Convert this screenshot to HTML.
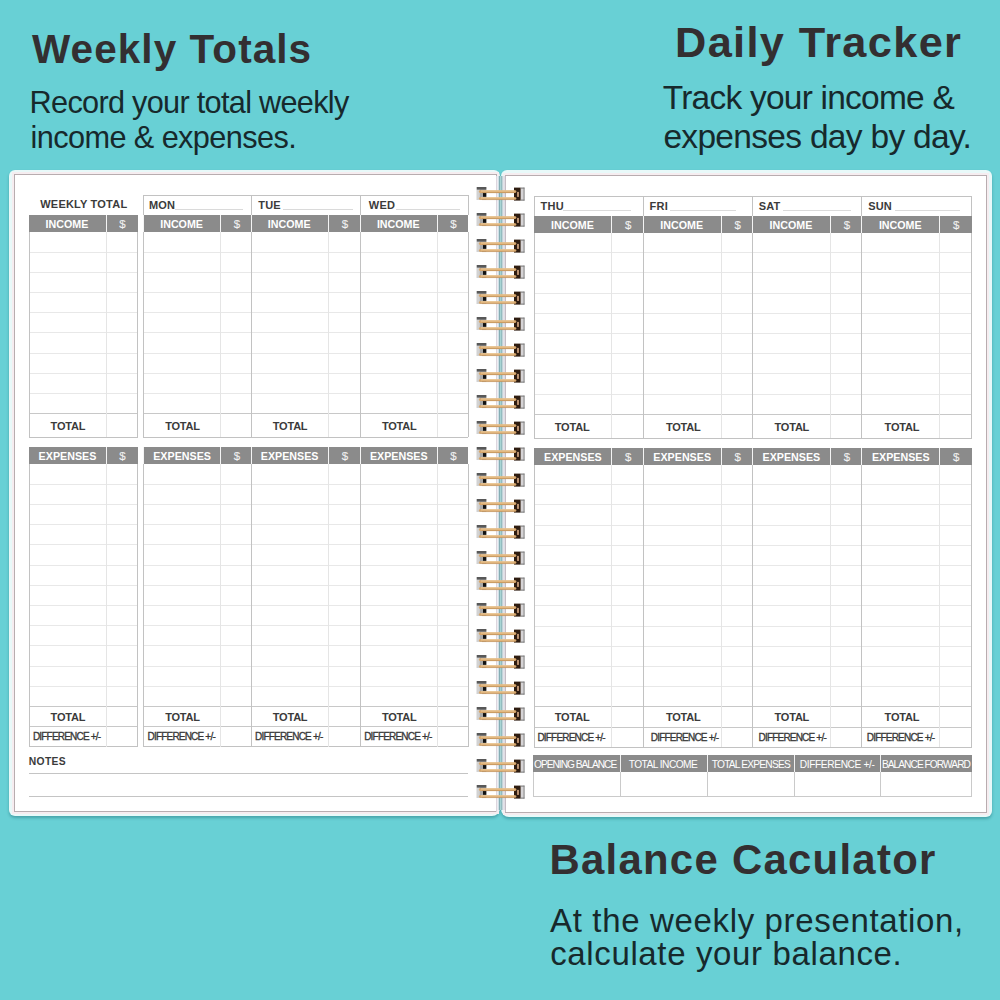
<!DOCTYPE html><html><head><meta charset="utf-8"><style>
*{margin:0;padding:0;box-sizing:border-box}
html,body{width:1000px;height:1000px;overflow:hidden}
body{background:#68d0d5;position:relative;font-family:"Liberation Sans",sans-serif}
.a{position:absolute}
.t{position:absolute;white-space:nowrap;line-height:1}
.big{position:absolute;white-space:nowrap;font-weight:bold;line-height:1;color:#332f31}
.sub{position:absolute;white-space:nowrap;line-height:1;color:#17292c}
.card{position:absolute;background:#e8f9f9;border-radius:6px;box-shadow:0 2px 3px rgba(0,70,80,.32)}
.inner{position:absolute;background:#fff;border:1px solid #b8adb0;box-shadow:0 0 0 2px #f6edf0}

</style></head><body>
<div class="big" style="left:32px;top:29px;font-size:40.5px;letter-spacing:1.066px">Weekly Totals</div>
<div class="sub" style="left:29.6px;top:87.8px;font-size:30.7px;letter-spacing:-0.708px">Record your total weekly</div>
<div class="sub" style="left:30.6px;top:123.4px;font-size:30.7px;letter-spacing:-0.599px">income &amp; expenses.</div>
<div class="big" style="left:675px;top:21px;font-size:43.3px;letter-spacing:1.365px">Daily Tracker</div>
<div class="sub" style="left:662.8px;top:81px;font-size:33.5px;letter-spacing:-0.776px">Track your income &amp;</div>
<div class="sub" style="left:663.4px;top:119.8px;font-size:33.5px;letter-spacing:-0.691px">expenses day by day.</div>
<div class="big" style="left:549.4px;top:839.2px;font-size:41.9px;letter-spacing:1.275px">Balance Caculator</div>
<div class="sub" style="left:550px;top:904.4px;font-size:33px;letter-spacing:0.656px">At the weekly presentation,</div>
<div class="sub" style="left:550.2px;top:937.2px;font-size:33px;letter-spacing:0.636px">calculate your balance.</div>
<div class="card" style="left:9px;top:170px;width:491px;height:646px;border-bottom-right-radius:8px"></div>
<div class="card" style="left:501px;top:170px;width:491px;height:647px;border-bottom-left-radius:8px"></div>
<div class="inner" style="left:14px;top:174px;width:483px;height:638px"></div>
<div class="inner" style="left:505px;top:175px;width:482px;height:638px"></div>
<div class="a" style="left:496px;top:176px;width:1px;height:636px;background:#dcd6de"></div>
<div class="a" style="left:497px;top:176px;width:1px;height:634px;background:#eeecf2"></div>
<div class="a" style="left:498px;top:176px;width:1px;height:634px;background:#d0e0e6"></div>
<div class="a" style="left:499px;top:176px;width:1px;height:634px;background:#84adb4"></div>
<div class="a" style="left:500px;top:176px;width:1px;height:634px;background:#a8d4d4"></div>
<div class="a" style="left:501px;top:176px;width:1px;height:634px;background:#92bbbf"></div>
<div class="a" style="left:502px;top:176px;width:1px;height:634px;background:#c2d3d9"></div>
<div class="a" style="left:503px;top:176px;width:1px;height:634px;background:#e2e3e9"></div>
<div class="a" style="left:504px;top:176px;width:1px;height:634px;background:#e0dce4"></div>
<div class="a" style="left:505px;top:176px;width:1px;height:636px;background:#c4bcc4"></div>
<div class="t" style="left:40.25px;top:198.75px;font-size:11px;letter-spacing:0.209px;font-weight:bold;color:#3b3b3b">WEEKLY TOTAL</div>
<div class="a" style="left:143.1px;top:195px;width:325.4px;height:1px;background:#c2c2c2"></div>
<div class="a" style="left:143px;top:195px;width:1px;height:20px;background:#c2c2c2"></div>
<div class="a" style="left:251px;top:195px;width:1px;height:20px;background:#c2c2c2"></div>
<div class="a" style="left:360px;top:195px;width:1px;height:20px;background:#c2c2c2"></div>
<div class="a" style="left:468px;top:195px;width:1px;height:20px;background:#c2c2c2"></div>
<div class="t" style="left:148.9px;top:200.3px;font-size:11px;letter-spacing:0.203px;font-weight:bold;color:#3b3b3b">MON</div>
<div class="a" style="left:175.3px;top:209px;width:68.2px;height:1px;background:#dadada"></div>
<div class="t" style="left:258.3px;top:200.3px;font-size:11px;letter-spacing:0.203px;font-weight:bold;color:#3b3b3b">TUE</div>
<div class="a" style="left:283px;top:209px;width:69.5px;height:1px;background:#dadada"></div>
<div class="t" style="left:368.8px;top:200.3px;font-size:11px;letter-spacing:0.203px;font-weight:bold;color:#3b3b3b">WED</div>
<div class="a" style="left:395.5px;top:209px;width:64.5px;height:1px;background:#dadada"></div>
<div class="a" style="left:29px;top:215px;width:109px;height:17px;background:#8b8b8b"></div>
<div class="a" style="left:143px;top:215px;width:325px;height:17px;background:#8b8b8b"></div>
<div class="a" style="left:106px;top:215px;width:1px;height:17px;background:#f4f4f4"></div>
<div class="a" style="left:220px;top:215px;width:1px;height:17px;background:#f4f4f4"></div>
<div class="a" style="left:143px;top:215px;width:1px;height:17px;background:#f4f4f4"></div>
<div class="a" style="left:328px;top:215px;width:1px;height:17px;background:#f4f4f4"></div>
<div class="a" style="left:251px;top:215px;width:1px;height:17px;background:#f4f4f4"></div>
<div class="a" style="left:437px;top:215px;width:1px;height:17px;background:#f4f4f4"></div>
<div class="a" style="left:360px;top:215px;width:1px;height:17px;background:#f4f4f4"></div>
<div class="t" style="left:45.6px;top:219px;font-size:10.7px;letter-spacing:0.001px;font-weight:bold;color:#fff">INCOME</div>
<div class="t" style="left:119.3px;top:219px;font-size:11.5px;letter-spacing:0px;font-weight:normal;color:#f2f2f2;-webkit-text-stroke:0.1px #f4f4f4">$</div>
<div class="t" style="left:160.2px;top:219px;font-size:10.7px;letter-spacing:0.001px;font-weight:bold;color:#fff">INCOME</div>
<div class="t" style="left:233.65px;top:219px;font-size:11.5px;letter-spacing:0px;font-weight:normal;color:#f2f2f2;-webkit-text-stroke:0.1px #f4f4f4">$</div>
<div class="t" style="left:267.75px;top:219px;font-size:10.7px;letter-spacing:0.001px;font-weight:bold;color:#fff">INCOME</div>
<div class="t" style="left:341.75px;top:219px;font-size:11.5px;letter-spacing:0px;font-weight:normal;color:#f2f2f2;-webkit-text-stroke:0.1px #f4f4f4">$</div>
<div class="t" style="left:376.9px;top:219px;font-size:10.7px;letter-spacing:0.001px;font-weight:bold;color:#fff">INCOME</div>
<div class="t" style="left:450.15px;top:219px;font-size:11.5px;letter-spacing:0px;font-weight:normal;color:#f2f2f2;-webkit-text-stroke:0.1px #f4f4f4">$</div>
<div class="a" style="left:30px;top:252px;width:107px;height:1px;background:#e8e8e8"></div>
<div class="a" style="left:144px;top:252px;width:107px;height:1px;background:#e8e8e8"></div>
<div class="a" style="left:252px;top:252px;width:108px;height:1px;background:#e8e8e8"></div>
<div class="a" style="left:361px;top:252px;width:107px;height:1px;background:#e8e8e8"></div>
<div class="a" style="left:30px;top:272px;width:107px;height:1px;background:#e8e8e8"></div>
<div class="a" style="left:144px;top:272px;width:107px;height:1px;background:#e8e8e8"></div>
<div class="a" style="left:252px;top:272px;width:108px;height:1px;background:#e8e8e8"></div>
<div class="a" style="left:361px;top:272px;width:107px;height:1px;background:#e8e8e8"></div>
<div class="a" style="left:30px;top:292px;width:107px;height:1px;background:#e8e8e8"></div>
<div class="a" style="left:144px;top:292px;width:107px;height:1px;background:#e8e8e8"></div>
<div class="a" style="left:252px;top:292px;width:108px;height:1px;background:#e8e8e8"></div>
<div class="a" style="left:361px;top:292px;width:107px;height:1px;background:#e8e8e8"></div>
<div class="a" style="left:30px;top:312px;width:107px;height:1px;background:#e8e8e8"></div>
<div class="a" style="left:144px;top:312px;width:107px;height:1px;background:#e8e8e8"></div>
<div class="a" style="left:252px;top:312px;width:108px;height:1px;background:#e8e8e8"></div>
<div class="a" style="left:361px;top:312px;width:107px;height:1px;background:#e8e8e8"></div>
<div class="a" style="left:30px;top:332px;width:107px;height:1px;background:#e8e8e8"></div>
<div class="a" style="left:144px;top:332px;width:107px;height:1px;background:#e8e8e8"></div>
<div class="a" style="left:252px;top:332px;width:108px;height:1px;background:#e8e8e8"></div>
<div class="a" style="left:361px;top:332px;width:107px;height:1px;background:#e8e8e8"></div>
<div class="a" style="left:30px;top:353px;width:107px;height:1px;background:#e8e8e8"></div>
<div class="a" style="left:144px;top:353px;width:107px;height:1px;background:#e8e8e8"></div>
<div class="a" style="left:252px;top:353px;width:108px;height:1px;background:#e8e8e8"></div>
<div class="a" style="left:361px;top:353px;width:107px;height:1px;background:#e8e8e8"></div>
<div class="a" style="left:30px;top:373px;width:107px;height:1px;background:#e8e8e8"></div>
<div class="a" style="left:144px;top:373px;width:107px;height:1px;background:#e8e8e8"></div>
<div class="a" style="left:252px;top:373px;width:108px;height:1px;background:#e8e8e8"></div>
<div class="a" style="left:361px;top:373px;width:107px;height:1px;background:#e8e8e8"></div>
<div class="a" style="left:30px;top:393px;width:107px;height:1px;background:#e8e8e8"></div>
<div class="a" style="left:144px;top:393px;width:107px;height:1px;background:#e8e8e8"></div>
<div class="a" style="left:252px;top:393px;width:108px;height:1px;background:#e8e8e8"></div>
<div class="a" style="left:361px;top:393px;width:107px;height:1px;background:#e8e8e8"></div>
<div class="a" style="left:29px;top:413px;width:109px;height:1px;background:#c8c8c8"></div>
<div class="a" style="left:143px;top:413px;width:325px;height:1px;background:#c8c8c8"></div>
<div class="t" style="left:50.6px;top:420.9px;font-size:11px;letter-spacing:-0.2px;font-weight:bold;color:#3b3b3b">TOTAL</div>
<div class="t" style="left:165.2px;top:420.9px;font-size:11px;letter-spacing:-0.2px;font-weight:bold;color:#3b3b3b">TOTAL</div>
<div class="t" style="left:272.75px;top:420.9px;font-size:11px;letter-spacing:-0.2px;font-weight:bold;color:#3b3b3b">TOTAL</div>
<div class="t" style="left:381.9px;top:420.9px;font-size:11px;letter-spacing:-0.2px;font-weight:bold;color:#3b3b3b">TOTAL</div>
<div class="a" style="left:29px;top:437px;width:109px;height:1px;background:#c2c2c2"></div>
<div class="a" style="left:143px;top:437px;width:325px;height:1px;background:#c2c2c2"></div>
<div class="a" style="left:106px;top:232px;width:1px;height:205.3px;background:#e5e5e5"></div>
<div class="a" style="left:29px;top:232px;width:1px;height:205.3px;background:#c2c2c2"></div>
<div class="a" style="left:137px;top:232px;width:1px;height:205.3px;background:#c2c2c2"></div>
<div class="a" style="left:220px;top:232px;width:1px;height:205.3px;background:#e5e5e5"></div>
<div class="a" style="left:143px;top:232px;width:1px;height:205.3px;background:#c2c2c2"></div>
<div class="a" style="left:328px;top:232px;width:1px;height:205.3px;background:#e5e5e5"></div>
<div class="a" style="left:251px;top:232px;width:1px;height:205.3px;background:#c2c2c2"></div>
<div class="a" style="left:437px;top:232px;width:1px;height:205.3px;background:#e5e5e5"></div>
<div class="a" style="left:360px;top:232px;width:1px;height:205.3px;background:#c2c2c2"></div>
<div class="a" style="left:468px;top:232px;width:1px;height:205.3px;background:#c2c2c2"></div>
<div class="a" style="left:29px;top:447px;width:109px;height:17px;background:#8b8b8b"></div>
<div class="a" style="left:143px;top:447px;width:325px;height:17px;background:#8b8b8b"></div>
<div class="a" style="left:106px;top:447px;width:1px;height:17px;background:#f4f4f4"></div>
<div class="a" style="left:220px;top:447px;width:1px;height:17px;background:#f4f4f4"></div>
<div class="a" style="left:143px;top:447px;width:1px;height:17px;background:#f4f4f4"></div>
<div class="a" style="left:328px;top:447px;width:1px;height:17px;background:#f4f4f4"></div>
<div class="a" style="left:251px;top:447px;width:1px;height:17px;background:#f4f4f4"></div>
<div class="a" style="left:437px;top:447px;width:1px;height:17px;background:#f4f4f4"></div>
<div class="a" style="left:360px;top:447px;width:1px;height:17px;background:#f4f4f4"></div>
<div class="t" style="left:38.6px;top:450.9px;font-size:10.7px;letter-spacing:0.019px;font-weight:bold;color:#fff">EXPENSES</div>
<div class="t" style="left:119.3px;top:450.9px;font-size:11.5px;letter-spacing:0px;font-weight:normal;color:#f2f2f2;-webkit-text-stroke:0.1px #f4f4f4">$</div>
<div class="t" style="left:153.2px;top:450.9px;font-size:10.7px;letter-spacing:0.019px;font-weight:bold;color:#fff">EXPENSES</div>
<div class="t" style="left:233.65px;top:450.9px;font-size:11.5px;letter-spacing:0px;font-weight:normal;color:#f2f2f2;-webkit-text-stroke:0.1px #f4f4f4">$</div>
<div class="t" style="left:260.75px;top:450.9px;font-size:10.7px;letter-spacing:0.019px;font-weight:bold;color:#fff">EXPENSES</div>
<div class="t" style="left:341.75px;top:450.9px;font-size:11.5px;letter-spacing:0px;font-weight:normal;color:#f2f2f2;-webkit-text-stroke:0.1px #f4f4f4">$</div>
<div class="t" style="left:369.9px;top:450.9px;font-size:10.7px;letter-spacing:0.019px;font-weight:bold;color:#fff">EXPENSES</div>
<div class="t" style="left:450.15px;top:450.9px;font-size:11.5px;letter-spacing:0px;font-weight:normal;color:#f2f2f2;-webkit-text-stroke:0.1px #f4f4f4">$</div>
<div class="a" style="left:30px;top:484px;width:107px;height:1px;background:#e8e8e8"></div>
<div class="a" style="left:144px;top:484px;width:107px;height:1px;background:#e8e8e8"></div>
<div class="a" style="left:252px;top:484px;width:108px;height:1px;background:#e8e8e8"></div>
<div class="a" style="left:361px;top:484px;width:107px;height:1px;background:#e8e8e8"></div>
<div class="a" style="left:30px;top:504px;width:107px;height:1px;background:#e8e8e8"></div>
<div class="a" style="left:144px;top:504px;width:107px;height:1px;background:#e8e8e8"></div>
<div class="a" style="left:252px;top:504px;width:108px;height:1px;background:#e8e8e8"></div>
<div class="a" style="left:361px;top:504px;width:107px;height:1px;background:#e8e8e8"></div>
<div class="a" style="left:30px;top:524px;width:107px;height:1px;background:#e8e8e8"></div>
<div class="a" style="left:144px;top:524px;width:107px;height:1px;background:#e8e8e8"></div>
<div class="a" style="left:252px;top:524px;width:108px;height:1px;background:#e8e8e8"></div>
<div class="a" style="left:361px;top:524px;width:107px;height:1px;background:#e8e8e8"></div>
<div class="a" style="left:30px;top:544px;width:107px;height:1px;background:#e8e8e8"></div>
<div class="a" style="left:144px;top:544px;width:107px;height:1px;background:#e8e8e8"></div>
<div class="a" style="left:252px;top:544px;width:108px;height:1px;background:#e8e8e8"></div>
<div class="a" style="left:361px;top:544px;width:107px;height:1px;background:#e8e8e8"></div>
<div class="a" style="left:30px;top:565px;width:107px;height:1px;background:#e8e8e8"></div>
<div class="a" style="left:144px;top:565px;width:107px;height:1px;background:#e8e8e8"></div>
<div class="a" style="left:252px;top:565px;width:108px;height:1px;background:#e8e8e8"></div>
<div class="a" style="left:361px;top:565px;width:107px;height:1px;background:#e8e8e8"></div>
<div class="a" style="left:30px;top:585px;width:107px;height:1px;background:#e8e8e8"></div>
<div class="a" style="left:144px;top:585px;width:107px;height:1px;background:#e8e8e8"></div>
<div class="a" style="left:252px;top:585px;width:108px;height:1px;background:#e8e8e8"></div>
<div class="a" style="left:361px;top:585px;width:107px;height:1px;background:#e8e8e8"></div>
<div class="a" style="left:30px;top:605px;width:107px;height:1px;background:#e8e8e8"></div>
<div class="a" style="left:144px;top:605px;width:107px;height:1px;background:#e8e8e8"></div>
<div class="a" style="left:252px;top:605px;width:108px;height:1px;background:#e8e8e8"></div>
<div class="a" style="left:361px;top:605px;width:107px;height:1px;background:#e8e8e8"></div>
<div class="a" style="left:30px;top:625px;width:107px;height:1px;background:#e8e8e8"></div>
<div class="a" style="left:144px;top:625px;width:107px;height:1px;background:#e8e8e8"></div>
<div class="a" style="left:252px;top:625px;width:108px;height:1px;background:#e8e8e8"></div>
<div class="a" style="left:361px;top:625px;width:107px;height:1px;background:#e8e8e8"></div>
<div class="a" style="left:30px;top:645px;width:107px;height:1px;background:#e8e8e8"></div>
<div class="a" style="left:144px;top:645px;width:107px;height:1px;background:#e8e8e8"></div>
<div class="a" style="left:252px;top:645px;width:108px;height:1px;background:#e8e8e8"></div>
<div class="a" style="left:361px;top:645px;width:107px;height:1px;background:#e8e8e8"></div>
<div class="a" style="left:30px;top:666px;width:107px;height:1px;background:#e8e8e8"></div>
<div class="a" style="left:144px;top:666px;width:107px;height:1px;background:#e8e8e8"></div>
<div class="a" style="left:252px;top:666px;width:108px;height:1px;background:#e8e8e8"></div>
<div class="a" style="left:361px;top:666px;width:107px;height:1px;background:#e8e8e8"></div>
<div class="a" style="left:30px;top:686px;width:107px;height:1px;background:#e8e8e8"></div>
<div class="a" style="left:144px;top:686px;width:107px;height:1px;background:#e8e8e8"></div>
<div class="a" style="left:252px;top:686px;width:108px;height:1px;background:#e8e8e8"></div>
<div class="a" style="left:361px;top:686px;width:107px;height:1px;background:#e8e8e8"></div>
<div class="a" style="left:29px;top:706px;width:109px;height:1px;background:#c8c8c8"></div>
<div class="a" style="left:143px;top:706px;width:325px;height:1px;background:#c8c8c8"></div>
<div class="t" style="left:50.6px;top:711.5px;font-size:11px;letter-spacing:-0.2px;font-weight:bold;color:#3b3b3b">TOTAL</div>
<div class="t" style="left:165.2px;top:711.5px;font-size:11px;letter-spacing:-0.2px;font-weight:bold;color:#3b3b3b">TOTAL</div>
<div class="t" style="left:272.75px;top:711.5px;font-size:11px;letter-spacing:-0.2px;font-weight:bold;color:#3b3b3b">TOTAL</div>
<div class="t" style="left:381.9px;top:711.5px;font-size:11px;letter-spacing:-0.2px;font-weight:bold;color:#3b3b3b">TOTAL</div>
<div class="a" style="left:29px;top:726px;width:109px;height:1px;background:#c8c8c8"></div>
<div class="a" style="left:143px;top:726px;width:325px;height:1px;background:#c8c8c8"></div>
<div class="t" style="left:32.9px;top:732px;font-size:10.0px;letter-spacing:-0.8px;font-weight:normal;color:#3b3b3b;-webkit-text-stroke:0.3px #333">DIFFERENCE +/-</div>
<div class="t" style="left:147.5px;top:732px;font-size:10.0px;letter-spacing:-0.8px;font-weight:normal;color:#3b3b3b;-webkit-text-stroke:0.3px #333">DIFFERENCE +/-</div>
<div class="t" style="left:255.05px;top:732px;font-size:10.0px;letter-spacing:-0.8px;font-weight:normal;color:#3b3b3b;-webkit-text-stroke:0.3px #333">DIFFERENCE +/-</div>
<div class="t" style="left:364.2px;top:732px;font-size:10.0px;letter-spacing:-0.8px;font-weight:normal;color:#3b3b3b;-webkit-text-stroke:0.3px #333">DIFFERENCE +/-</div>
<div class="a" style="left:29px;top:746px;width:109px;height:1px;background:#c2c2c2"></div>
<div class="a" style="left:143px;top:746px;width:325px;height:1px;background:#c2c2c2"></div>
<div class="a" style="left:106px;top:464px;width:1px;height:282.7px;background:#e5e5e5"></div>
<div class="a" style="left:29px;top:464px;width:1px;height:282.7px;background:#c2c2c2"></div>
<div class="a" style="left:137px;top:464px;width:1px;height:282.7px;background:#c2c2c2"></div>
<div class="a" style="left:220px;top:464px;width:1px;height:282.7px;background:#e5e5e5"></div>
<div class="a" style="left:143px;top:464px;width:1px;height:282.7px;background:#c2c2c2"></div>
<div class="a" style="left:328px;top:464px;width:1px;height:282.7px;background:#e5e5e5"></div>
<div class="a" style="left:251px;top:464px;width:1px;height:282.7px;background:#c2c2c2"></div>
<div class="a" style="left:437px;top:464px;width:1px;height:282.7px;background:#e5e5e5"></div>
<div class="a" style="left:360px;top:464px;width:1px;height:282.7px;background:#c2c2c2"></div>
<div class="a" style="left:468px;top:464px;width:1px;height:282.7px;background:#c2c2c2"></div>
<div class="t" style="left:28.8px;top:756.5px;font-size:10.3px;letter-spacing:0.318px;font-weight:bold;color:#3b3b3b">NOTES</div>
<div class="a" style="left:29px;top:773px;width:439px;height:1px;background:#c4c4c4"></div>
<div class="a" style="left:29px;top:796px;width:439px;height:1px;background:#c4c4c4"></div>
<div class="a" style="left:533.6px;top:196px;width:438px;height:1px;background:#c2c2c2"></div>
<div class="a" style="left:534px;top:196px;width:1px;height:20px;background:#c2c2c2"></div>
<div class="a" style="left:643px;top:196px;width:1px;height:20px;background:#c2c2c2"></div>
<div class="a" style="left:752px;top:196px;width:1px;height:20px;background:#c2c2c2"></div>
<div class="a" style="left:861px;top:196px;width:1px;height:20px;background:#c2c2c2"></div>
<div class="a" style="left:971px;top:196px;width:1px;height:20px;background:#c2c2c2"></div>
<div class="t" style="left:540.6px;top:201.2px;font-size:11px;letter-spacing:0.203px;font-weight:bold;color:#3b3b3b">THU</div>
<div class="a" style="left:563.4px;top:210px;width:67.2px;height:1px;background:#dadada"></div>
<div class="t" style="left:649.6px;top:201.2px;font-size:11px;letter-spacing:0.203px;font-weight:bold;color:#3b3b3b">FRI</div>
<div class="a" style="left:670.2px;top:210px;width:65.5px;height:1px;background:#dadada"></div>
<div class="t" style="left:758.7px;top:201.2px;font-size:11px;letter-spacing:0.203px;font-weight:bold;color:#3b3b3b">SAT</div>
<div class="a" style="left:782.7px;top:210px;width:68.2px;height:1px;background:#dadada"></div>
<div class="t" style="left:868.2px;top:201.2px;font-size:11px;letter-spacing:0.203px;font-weight:bold;color:#3b3b3b">SUN</div>
<div class="a" style="left:894.8px;top:210px;width:64.8px;height:1px;background:#dadada"></div>
<div class="a" style="left:534px;top:216px;width:438px;height:16.5px;background:#8b8b8b"></div>
<div class="a" style="left:611px;top:216px;width:1px;height:16.5px;background:#f4f4f4"></div>
<div class="a" style="left:721px;top:216px;width:1px;height:16.5px;background:#f4f4f4"></div>
<div class="a" style="left:643px;top:216px;width:1px;height:16.5px;background:#f4f4f4"></div>
<div class="a" style="left:830px;top:216px;width:1px;height:16.5px;background:#f4f4f4"></div>
<div class="a" style="left:752px;top:216px;width:1px;height:16.5px;background:#f4f4f4"></div>
<div class="a" style="left:939px;top:216px;width:1px;height:16.5px;background:#f4f4f4"></div>
<div class="a" style="left:861px;top:216px;width:1px;height:16.5px;background:#f4f4f4"></div>
<div class="t" style="left:551px;top:220px;font-size:10.7px;letter-spacing:0.001px;font-weight:bold;color:#fff">INCOME</div>
<div class="t" style="left:625.1px;top:220px;font-size:11.5px;letter-spacing:0px;font-weight:normal;color:#f2f2f2;-webkit-text-stroke:0.1px #f4f4f4">$</div>
<div class="t" style="left:660.3px;top:220px;font-size:10.7px;letter-spacing:0.001px;font-weight:bold;color:#fff">INCOME</div>
<div class="t" style="left:734.4px;top:220px;font-size:11.5px;letter-spacing:0px;font-weight:normal;color:#f2f2f2;-webkit-text-stroke:0.1px #f4f4f4">$</div>
<div class="t" style="left:769.5px;top:220px;font-size:10.7px;letter-spacing:0.001px;font-weight:bold;color:#fff">INCOME</div>
<div class="t" style="left:843.7px;top:220px;font-size:11.5px;letter-spacing:0px;font-weight:normal;color:#f2f2f2;-webkit-text-stroke:0.1px #f4f4f4">$</div>
<div class="t" style="left:878.9px;top:220px;font-size:10.7px;letter-spacing:0.001px;font-weight:bold;color:#fff">INCOME</div>
<div class="t" style="left:953px;top:220px;font-size:11.5px;letter-spacing:0px;font-weight:normal;color:#f2f2f2;-webkit-text-stroke:0.1px #f4f4f4">$</div>
<div class="a" style="left:535px;top:252px;width:108px;height:1px;background:#e8e8e8"></div>
<div class="a" style="left:644px;top:252px;width:108px;height:1px;background:#e8e8e8"></div>
<div class="a" style="left:753px;top:252px;width:108px;height:1px;background:#e8e8e8"></div>
<div class="a" style="left:862px;top:252px;width:109px;height:1px;background:#e8e8e8"></div>
<div class="a" style="left:535px;top:272px;width:108px;height:1px;background:#e8e8e8"></div>
<div class="a" style="left:644px;top:272px;width:108px;height:1px;background:#e8e8e8"></div>
<div class="a" style="left:753px;top:272px;width:108px;height:1px;background:#e8e8e8"></div>
<div class="a" style="left:862px;top:272px;width:109px;height:1px;background:#e8e8e8"></div>
<div class="a" style="left:535px;top:293px;width:108px;height:1px;background:#e8e8e8"></div>
<div class="a" style="left:644px;top:293px;width:108px;height:1px;background:#e8e8e8"></div>
<div class="a" style="left:753px;top:293px;width:108px;height:1px;background:#e8e8e8"></div>
<div class="a" style="left:862px;top:293px;width:109px;height:1px;background:#e8e8e8"></div>
<div class="a" style="left:535px;top:313px;width:108px;height:1px;background:#e8e8e8"></div>
<div class="a" style="left:644px;top:313px;width:108px;height:1px;background:#e8e8e8"></div>
<div class="a" style="left:753px;top:313px;width:108px;height:1px;background:#e8e8e8"></div>
<div class="a" style="left:862px;top:313px;width:109px;height:1px;background:#e8e8e8"></div>
<div class="a" style="left:535px;top:333px;width:108px;height:1px;background:#e8e8e8"></div>
<div class="a" style="left:644px;top:333px;width:108px;height:1px;background:#e8e8e8"></div>
<div class="a" style="left:753px;top:333px;width:108px;height:1px;background:#e8e8e8"></div>
<div class="a" style="left:862px;top:333px;width:109px;height:1px;background:#e8e8e8"></div>
<div class="a" style="left:535px;top:353px;width:108px;height:1px;background:#e8e8e8"></div>
<div class="a" style="left:644px;top:353px;width:108px;height:1px;background:#e8e8e8"></div>
<div class="a" style="left:753px;top:353px;width:108px;height:1px;background:#e8e8e8"></div>
<div class="a" style="left:862px;top:353px;width:109px;height:1px;background:#e8e8e8"></div>
<div class="a" style="left:535px;top:373px;width:108px;height:1px;background:#e8e8e8"></div>
<div class="a" style="left:644px;top:373px;width:108px;height:1px;background:#e8e8e8"></div>
<div class="a" style="left:753px;top:373px;width:108px;height:1px;background:#e8e8e8"></div>
<div class="a" style="left:862px;top:373px;width:109px;height:1px;background:#e8e8e8"></div>
<div class="a" style="left:535px;top:394px;width:108px;height:1px;background:#e8e8e8"></div>
<div class="a" style="left:644px;top:394px;width:108px;height:1px;background:#e8e8e8"></div>
<div class="a" style="left:753px;top:394px;width:108px;height:1px;background:#e8e8e8"></div>
<div class="a" style="left:862px;top:394px;width:109px;height:1px;background:#e8e8e8"></div>
<div class="a" style="left:534px;top:414px;width:438px;height:1px;background:#c8c8c8"></div>
<div class="t" style="left:554.8px;top:421.7px;font-size:11px;letter-spacing:-0.2px;font-weight:bold;color:#3b3b3b">TOTAL</div>
<div class="t" style="left:665.9px;top:421.7px;font-size:11px;letter-spacing:-0.2px;font-weight:bold;color:#3b3b3b">TOTAL</div>
<div class="t" style="left:774.5px;top:421.7px;font-size:11px;letter-spacing:-0.2px;font-weight:bold;color:#3b3b3b">TOTAL</div>
<div class="t" style="left:884.6px;top:421.7px;font-size:11px;letter-spacing:-0.2px;font-weight:bold;color:#3b3b3b">TOTAL</div>
<div class="a" style="left:534px;top:438px;width:438px;height:1px;background:#c2c2c2"></div>
<div class="a" style="left:611px;top:232.5px;width:1px;height:205.5px;background:#e5e5e5"></div>
<div class="a" style="left:534px;top:232.5px;width:1px;height:205.5px;background:#c2c2c2"></div>
<div class="a" style="left:721px;top:232.5px;width:1px;height:205.5px;background:#e5e5e5"></div>
<div class="a" style="left:643px;top:232.5px;width:1px;height:205.5px;background:#c2c2c2"></div>
<div class="a" style="left:830px;top:232.5px;width:1px;height:205.5px;background:#e5e5e5"></div>
<div class="a" style="left:752px;top:232.5px;width:1px;height:205.5px;background:#c2c2c2"></div>
<div class="a" style="left:939px;top:232.5px;width:1px;height:205.5px;background:#e5e5e5"></div>
<div class="a" style="left:861px;top:232.5px;width:1px;height:205.5px;background:#c2c2c2"></div>
<div class="a" style="left:971px;top:232.5px;width:1px;height:205.5px;background:#c2c2c2"></div>
<div class="a" style="left:534px;top:448px;width:438px;height:16.5px;background:#8b8b8b"></div>
<div class="a" style="left:611px;top:448px;width:1px;height:16.5px;background:#f4f4f4"></div>
<div class="a" style="left:721px;top:448px;width:1px;height:16.5px;background:#f4f4f4"></div>
<div class="a" style="left:643px;top:448px;width:1px;height:16.5px;background:#f4f4f4"></div>
<div class="a" style="left:830px;top:448px;width:1px;height:16.5px;background:#f4f4f4"></div>
<div class="a" style="left:752px;top:448px;width:1px;height:16.5px;background:#f4f4f4"></div>
<div class="a" style="left:939px;top:448px;width:1px;height:16.5px;background:#f4f4f4"></div>
<div class="a" style="left:861px;top:448px;width:1px;height:16.5px;background:#f4f4f4"></div>
<div class="t" style="left:544px;top:451.5px;font-size:10.7px;letter-spacing:0.019px;font-weight:bold;color:#fff">EXPENSES</div>
<div class="t" style="left:625.1px;top:451.5px;font-size:11.5px;letter-spacing:0px;font-weight:normal;color:#f2f2f2;-webkit-text-stroke:0.1px #f4f4f4">$</div>
<div class="t" style="left:653.3px;top:451.5px;font-size:10.7px;letter-spacing:0.019px;font-weight:bold;color:#fff">EXPENSES</div>
<div class="t" style="left:734.4px;top:451.5px;font-size:11.5px;letter-spacing:0px;font-weight:normal;color:#f2f2f2;-webkit-text-stroke:0.1px #f4f4f4">$</div>
<div class="t" style="left:762.5px;top:451.5px;font-size:10.7px;letter-spacing:0.019px;font-weight:bold;color:#fff">EXPENSES</div>
<div class="t" style="left:843.7px;top:451.5px;font-size:11.5px;letter-spacing:0px;font-weight:normal;color:#f2f2f2;-webkit-text-stroke:0.1px #f4f4f4">$</div>
<div class="t" style="left:871.9px;top:451.5px;font-size:10.7px;letter-spacing:0.019px;font-weight:bold;color:#fff">EXPENSES</div>
<div class="t" style="left:953px;top:451.5px;font-size:11.5px;letter-spacing:0px;font-weight:normal;color:#f2f2f2;-webkit-text-stroke:0.1px #f4f4f4">$</div>
<div class="a" style="left:535px;top:484px;width:108px;height:1px;background:#e8e8e8"></div>
<div class="a" style="left:644px;top:484px;width:108px;height:1px;background:#e8e8e8"></div>
<div class="a" style="left:753px;top:484px;width:108px;height:1px;background:#e8e8e8"></div>
<div class="a" style="left:862px;top:484px;width:109px;height:1px;background:#e8e8e8"></div>
<div class="a" style="left:535px;top:504px;width:108px;height:1px;background:#e8e8e8"></div>
<div class="a" style="left:644px;top:504px;width:108px;height:1px;background:#e8e8e8"></div>
<div class="a" style="left:753px;top:504px;width:108px;height:1px;background:#e8e8e8"></div>
<div class="a" style="left:862px;top:504px;width:109px;height:1px;background:#e8e8e8"></div>
<div class="a" style="left:535px;top:525px;width:108px;height:1px;background:#e8e8e8"></div>
<div class="a" style="left:644px;top:525px;width:108px;height:1px;background:#e8e8e8"></div>
<div class="a" style="left:753px;top:525px;width:108px;height:1px;background:#e8e8e8"></div>
<div class="a" style="left:862px;top:525px;width:109px;height:1px;background:#e8e8e8"></div>
<div class="a" style="left:535px;top:545px;width:108px;height:1px;background:#e8e8e8"></div>
<div class="a" style="left:644px;top:545px;width:108px;height:1px;background:#e8e8e8"></div>
<div class="a" style="left:753px;top:545px;width:108px;height:1px;background:#e8e8e8"></div>
<div class="a" style="left:862px;top:545px;width:109px;height:1px;background:#e8e8e8"></div>
<div class="a" style="left:535px;top:565px;width:108px;height:1px;background:#e8e8e8"></div>
<div class="a" style="left:644px;top:565px;width:108px;height:1px;background:#e8e8e8"></div>
<div class="a" style="left:753px;top:565px;width:108px;height:1px;background:#e8e8e8"></div>
<div class="a" style="left:862px;top:565px;width:109px;height:1px;background:#e8e8e8"></div>
<div class="a" style="left:535px;top:585px;width:108px;height:1px;background:#e8e8e8"></div>
<div class="a" style="left:644px;top:585px;width:108px;height:1px;background:#e8e8e8"></div>
<div class="a" style="left:753px;top:585px;width:108px;height:1px;background:#e8e8e8"></div>
<div class="a" style="left:862px;top:585px;width:109px;height:1px;background:#e8e8e8"></div>
<div class="a" style="left:535px;top:605px;width:108px;height:1px;background:#e8e8e8"></div>
<div class="a" style="left:644px;top:605px;width:108px;height:1px;background:#e8e8e8"></div>
<div class="a" style="left:753px;top:605px;width:108px;height:1px;background:#e8e8e8"></div>
<div class="a" style="left:862px;top:605px;width:109px;height:1px;background:#e8e8e8"></div>
<div class="a" style="left:535px;top:626px;width:108px;height:1px;background:#e8e8e8"></div>
<div class="a" style="left:644px;top:626px;width:108px;height:1px;background:#e8e8e8"></div>
<div class="a" style="left:753px;top:626px;width:108px;height:1px;background:#e8e8e8"></div>
<div class="a" style="left:862px;top:626px;width:109px;height:1px;background:#e8e8e8"></div>
<div class="a" style="left:535px;top:646px;width:108px;height:1px;background:#e8e8e8"></div>
<div class="a" style="left:644px;top:646px;width:108px;height:1px;background:#e8e8e8"></div>
<div class="a" style="left:753px;top:646px;width:108px;height:1px;background:#e8e8e8"></div>
<div class="a" style="left:862px;top:646px;width:109px;height:1px;background:#e8e8e8"></div>
<div class="a" style="left:535px;top:666px;width:108px;height:1px;background:#e8e8e8"></div>
<div class="a" style="left:644px;top:666px;width:108px;height:1px;background:#e8e8e8"></div>
<div class="a" style="left:753px;top:666px;width:108px;height:1px;background:#e8e8e8"></div>
<div class="a" style="left:862px;top:666px;width:109px;height:1px;background:#e8e8e8"></div>
<div class="a" style="left:535px;top:686px;width:108px;height:1px;background:#e8e8e8"></div>
<div class="a" style="left:644px;top:686px;width:108px;height:1px;background:#e8e8e8"></div>
<div class="a" style="left:753px;top:686px;width:108px;height:1px;background:#e8e8e8"></div>
<div class="a" style="left:862px;top:686px;width:109px;height:1px;background:#e8e8e8"></div>
<div class="a" style="left:534px;top:706px;width:438px;height:1px;background:#c8c8c8"></div>
<div class="t" style="left:554.8px;top:712px;font-size:11px;letter-spacing:-0.2px;font-weight:bold;color:#3b3b3b">TOTAL</div>
<div class="t" style="left:665.9px;top:712px;font-size:11px;letter-spacing:-0.2px;font-weight:bold;color:#3b3b3b">TOTAL</div>
<div class="t" style="left:774.5px;top:712px;font-size:11px;letter-spacing:-0.2px;font-weight:bold;color:#3b3b3b">TOTAL</div>
<div class="t" style="left:884.6px;top:712px;font-size:11px;letter-spacing:-0.2px;font-weight:bold;color:#3b3b3b">TOTAL</div>
<div class="a" style="left:534px;top:727px;width:438px;height:1px;background:#c8c8c8"></div>
<div class="t" style="left:537.4px;top:732.5px;font-size:10.0px;letter-spacing:-0.8px;font-weight:normal;color:#3b3b3b;-webkit-text-stroke:0.3px #333">DIFFERENCE +/-</div>
<div class="t" style="left:650.8px;top:732.5px;font-size:10.0px;letter-spacing:-0.8px;font-weight:normal;color:#3b3b3b;-webkit-text-stroke:0.3px #333">DIFFERENCE +/-</div>
<div class="t" style="left:758.5px;top:732.5px;font-size:10.0px;letter-spacing:-0.8px;font-weight:normal;color:#3b3b3b;-webkit-text-stroke:0.3px #333">DIFFERENCE +/-</div>
<div class="t" style="left:866.8px;top:732.5px;font-size:10.0px;letter-spacing:-0.8px;font-weight:normal;color:#3b3b3b;-webkit-text-stroke:0.3px #333">DIFFERENCE +/-</div>
<div class="a" style="left:534px;top:747px;width:438px;height:1px;background:#c2c2c2"></div>
<div class="a" style="left:611px;top:464.5px;width:1px;height:282.6px;background:#e5e5e5"></div>
<div class="a" style="left:534px;top:464.5px;width:1px;height:282.6px;background:#c2c2c2"></div>
<div class="a" style="left:721px;top:464.5px;width:1px;height:282.6px;background:#e5e5e5"></div>
<div class="a" style="left:643px;top:464.5px;width:1px;height:282.6px;background:#c2c2c2"></div>
<div class="a" style="left:830px;top:464.5px;width:1px;height:282.6px;background:#e5e5e5"></div>
<div class="a" style="left:752px;top:464.5px;width:1px;height:282.6px;background:#c2c2c2"></div>
<div class="a" style="left:939px;top:464.5px;width:1px;height:282.6px;background:#e5e5e5"></div>
<div class="a" style="left:861px;top:464.5px;width:1px;height:282.6px;background:#c2c2c2"></div>
<div class="a" style="left:971px;top:464.5px;width:1px;height:282.6px;background:#c2c2c2"></div>
<div class="a" style="left:533px;top:755px;width:438.5px;height:17px;background:#8b8b8b"></div>
<div class="a" style="left:620px;top:755px;width:1px;height:17px;background:#f0f0f0"></div>
<div class="a" style="left:707px;top:755px;width:1px;height:17px;background:#f0f0f0"></div>
<div class="a" style="left:794px;top:755px;width:1px;height:17px;background:#f0f0f0"></div>
<div class="a" style="left:880px;top:755px;width:1px;height:17px;background:#f0f0f0"></div>
<div class="t" style="left:534px;top:759.8px;font-size:10.2px;letter-spacing:-1.014px;color:#fff">OPENING BALANCE</div>
<div class="t" style="left:628.7px;top:759.8px;font-size:10.2px;letter-spacing:-0.538px;color:#fff">TOTAL INCOME</div>
<div class="t" style="left:711.8px;top:759.8px;font-size:10.2px;letter-spacing:-0.796px;color:#fff">TOTAL EXPENSES</div>
<div class="t" style="left:799.8px;top:759.8px;font-size:10.2px;letter-spacing:-0.39px;color:#fff">DIFFERENCE +/-</div>
<div class="t" style="left:881.9px;top:759.8px;font-size:10.2px;letter-spacing:-0.962px;color:#fff">BALANCE FORWARD</div>
<div class="a" style="left:533px;top:772px;width:1px;height:24.5px;background:#cacaca"></div>
<div class="a" style="left:620px;top:772px;width:1px;height:24.5px;background:#cacaca"></div>
<div class="a" style="left:707px;top:772px;width:1px;height:24.5px;background:#cacaca"></div>
<div class="a" style="left:794px;top:772px;width:1px;height:24.5px;background:#cacaca"></div>
<div class="a" style="left:880px;top:772px;width:1px;height:24.5px;background:#cacaca"></div>
<div class="a" style="left:971px;top:772px;width:1px;height:24.5px;background:#cacaca"></div>
<div class="a" style="left:533px;top:796px;width:438.5px;height:1px;background:#cacaca"></div>
<svg class="a" style="left:470px;top:180px" width="60" height="625" viewBox="0 0 60 625">
<g transform="translate(0,0.4)"><rect x="6.8" y="6.6" width="9.5" height="13" fill="#a9a9a9"/><rect x="6.8" y="6.6" width="3" height="13" fill="#d2d2d2"/><rect x="6.8" y="6.6" width="9.5" height="2.6" fill="#585858"/><rect x="13" y="11.8" width="3.3" height="4.6" fill="#121212"/><rect x="44" y="7.2" width="6.8" height="13" fill="#2e1c10"/><rect x="47" y="11.5" width="2" height="5" fill="#b89070"/><rect x="50.8" y="7.2" width="3.6" height="13" fill="#d6d4d6"/><rect x="53.6" y="7.2" width="0.9" height="13" fill="#7a7a7a"/><rect x="50.8" y="7.2" width="3.6" height="1" fill="#7a7a7a"/><rect x="50.8" y="19.2" width="3.6" height="1" fill="#7a7a7a"/><path d="M10.2 11.2 L45 11.2" stroke="#d9a86c" stroke-width="2.7" stroke-linecap="round" fill="none"/><path d="M10.2 18.1 L45 18.1" stroke="#d9a86c" stroke-width="2.7" stroke-linecap="round" fill="none"/><path d="M11 10.6 L44.5 10.6" stroke="#f3d3a3" stroke-width="0.8" fill="none"/><path d="M11 17.5 L44.5 17.5" stroke="#f3d3a3" stroke-width="0.8" fill="none"/><path d="M12 12.3 L44.5 12.3" stroke="#b98a58" stroke-width="0.5" fill="none"/><path d="M12 19.2 L44.5 19.2" stroke="#b98a58" stroke-width="0.5" fill="none"/></g>
<g transform="translate(0,26.4)"><rect x="6.8" y="6.6" width="9.5" height="13" fill="#a9a9a9"/><rect x="6.8" y="6.6" width="3" height="13" fill="#d2d2d2"/><rect x="6.8" y="6.6" width="9.5" height="2.6" fill="#585858"/><rect x="13" y="11.8" width="3.3" height="4.6" fill="#121212"/><rect x="44" y="7.2" width="6.8" height="13" fill="#2e1c10"/><rect x="47" y="11.5" width="2" height="5" fill="#b89070"/><rect x="50.8" y="7.2" width="3.6" height="13" fill="#d6d4d6"/><rect x="53.6" y="7.2" width="0.9" height="13" fill="#7a7a7a"/><rect x="50.8" y="7.2" width="3.6" height="1" fill="#7a7a7a"/><rect x="50.8" y="19.2" width="3.6" height="1" fill="#7a7a7a"/><path d="M10.2 11.2 L45 11.2" stroke="#d9a86c" stroke-width="2.7" stroke-linecap="round" fill="none"/><path d="M10.2 18.1 L45 18.1" stroke="#d9a86c" stroke-width="2.7" stroke-linecap="round" fill="none"/><path d="M11 10.6 L44.5 10.6" stroke="#f3d3a3" stroke-width="0.8" fill="none"/><path d="M11 17.5 L44.5 17.5" stroke="#f3d3a3" stroke-width="0.8" fill="none"/><path d="M12 12.3 L44.5 12.3" stroke="#b98a58" stroke-width="0.5" fill="none"/><path d="M12 19.2 L44.5 19.2" stroke="#b98a58" stroke-width="0.5" fill="none"/></g>
<g transform="translate(0,52.4)"><rect x="6.8" y="6.6" width="9.5" height="13" fill="#a9a9a9"/><rect x="6.8" y="6.6" width="3" height="13" fill="#d2d2d2"/><rect x="6.8" y="6.6" width="9.5" height="2.6" fill="#585858"/><rect x="13" y="11.8" width="3.3" height="4.6" fill="#121212"/><rect x="44" y="7.2" width="6.8" height="13" fill="#2e1c10"/><rect x="47" y="11.5" width="2" height="5" fill="#b89070"/><rect x="50.8" y="7.2" width="3.6" height="13" fill="#d6d4d6"/><rect x="53.6" y="7.2" width="0.9" height="13" fill="#7a7a7a"/><rect x="50.8" y="7.2" width="3.6" height="1" fill="#7a7a7a"/><rect x="50.8" y="19.2" width="3.6" height="1" fill="#7a7a7a"/><path d="M10.2 11.2 L45 11.2" stroke="#d9a86c" stroke-width="2.7" stroke-linecap="round" fill="none"/><path d="M10.2 18.1 L45 18.1" stroke="#d9a86c" stroke-width="2.7" stroke-linecap="round" fill="none"/><path d="M11 10.6 L44.5 10.6" stroke="#f3d3a3" stroke-width="0.8" fill="none"/><path d="M11 17.5 L44.5 17.5" stroke="#f3d3a3" stroke-width="0.8" fill="none"/><path d="M12 12.3 L44.5 12.3" stroke="#b98a58" stroke-width="0.5" fill="none"/><path d="M12 19.2 L44.5 19.2" stroke="#b98a58" stroke-width="0.5" fill="none"/></g>
<g transform="translate(0,78.4)"><rect x="6.8" y="6.6" width="9.5" height="13" fill="#a9a9a9"/><rect x="6.8" y="6.6" width="3" height="13" fill="#d2d2d2"/><rect x="6.8" y="6.6" width="9.5" height="2.6" fill="#585858"/><rect x="13" y="11.8" width="3.3" height="4.6" fill="#121212"/><rect x="44" y="7.2" width="6.8" height="13" fill="#2e1c10"/><rect x="47" y="11.5" width="2" height="5" fill="#b89070"/><rect x="50.8" y="7.2" width="3.6" height="13" fill="#d6d4d6"/><rect x="53.6" y="7.2" width="0.9" height="13" fill="#7a7a7a"/><rect x="50.8" y="7.2" width="3.6" height="1" fill="#7a7a7a"/><rect x="50.8" y="19.2" width="3.6" height="1" fill="#7a7a7a"/><path d="M10.2 11.2 L45 11.2" stroke="#d9a86c" stroke-width="2.7" stroke-linecap="round" fill="none"/><path d="M10.2 18.1 L45 18.1" stroke="#d9a86c" stroke-width="2.7" stroke-linecap="round" fill="none"/><path d="M11 10.6 L44.5 10.6" stroke="#f3d3a3" stroke-width="0.8" fill="none"/><path d="M11 17.5 L44.5 17.5" stroke="#f3d3a3" stroke-width="0.8" fill="none"/><path d="M12 12.3 L44.5 12.3" stroke="#b98a58" stroke-width="0.5" fill="none"/><path d="M12 19.2 L44.5 19.2" stroke="#b98a58" stroke-width="0.5" fill="none"/></g>
<g transform="translate(0,104.4)"><rect x="6.8" y="6.6" width="9.5" height="13" fill="#a9a9a9"/><rect x="6.8" y="6.6" width="3" height="13" fill="#d2d2d2"/><rect x="6.8" y="6.6" width="9.5" height="2.6" fill="#585858"/><rect x="13" y="11.8" width="3.3" height="4.6" fill="#121212"/><rect x="44" y="7.2" width="6.8" height="13" fill="#2e1c10"/><rect x="47" y="11.5" width="2" height="5" fill="#b89070"/><rect x="50.8" y="7.2" width="3.6" height="13" fill="#d6d4d6"/><rect x="53.6" y="7.2" width="0.9" height="13" fill="#7a7a7a"/><rect x="50.8" y="7.2" width="3.6" height="1" fill="#7a7a7a"/><rect x="50.8" y="19.2" width="3.6" height="1" fill="#7a7a7a"/><path d="M10.2 11.2 L45 11.2" stroke="#d9a86c" stroke-width="2.7" stroke-linecap="round" fill="none"/><path d="M10.2 18.1 L45 18.1" stroke="#d9a86c" stroke-width="2.7" stroke-linecap="round" fill="none"/><path d="M11 10.6 L44.5 10.6" stroke="#f3d3a3" stroke-width="0.8" fill="none"/><path d="M11 17.5 L44.5 17.5" stroke="#f3d3a3" stroke-width="0.8" fill="none"/><path d="M12 12.3 L44.5 12.3" stroke="#b98a58" stroke-width="0.5" fill="none"/><path d="M12 19.2 L44.5 19.2" stroke="#b98a58" stroke-width="0.5" fill="none"/></g>
<g transform="translate(0,130.4)"><rect x="6.8" y="6.6" width="9.5" height="13" fill="#a9a9a9"/><rect x="6.8" y="6.6" width="3" height="13" fill="#d2d2d2"/><rect x="6.8" y="6.6" width="9.5" height="2.6" fill="#585858"/><rect x="13" y="11.8" width="3.3" height="4.6" fill="#121212"/><rect x="44" y="7.2" width="6.8" height="13" fill="#2e1c10"/><rect x="47" y="11.5" width="2" height="5" fill="#b89070"/><rect x="50.8" y="7.2" width="3.6" height="13" fill="#d6d4d6"/><rect x="53.6" y="7.2" width="0.9" height="13" fill="#7a7a7a"/><rect x="50.8" y="7.2" width="3.6" height="1" fill="#7a7a7a"/><rect x="50.8" y="19.2" width="3.6" height="1" fill="#7a7a7a"/><path d="M10.2 11.2 L45 11.2" stroke="#d9a86c" stroke-width="2.7" stroke-linecap="round" fill="none"/><path d="M10.2 18.1 L45 18.1" stroke="#d9a86c" stroke-width="2.7" stroke-linecap="round" fill="none"/><path d="M11 10.6 L44.5 10.6" stroke="#f3d3a3" stroke-width="0.8" fill="none"/><path d="M11 17.5 L44.5 17.5" stroke="#f3d3a3" stroke-width="0.8" fill="none"/><path d="M12 12.3 L44.5 12.3" stroke="#b98a58" stroke-width="0.5" fill="none"/><path d="M12 19.2 L44.5 19.2" stroke="#b98a58" stroke-width="0.5" fill="none"/></g>
<g transform="translate(0,156.4)"><rect x="6.8" y="6.6" width="9.5" height="13" fill="#a9a9a9"/><rect x="6.8" y="6.6" width="3" height="13" fill="#d2d2d2"/><rect x="6.8" y="6.6" width="9.5" height="2.6" fill="#585858"/><rect x="13" y="11.8" width="3.3" height="4.6" fill="#121212"/><rect x="44" y="7.2" width="6.8" height="13" fill="#2e1c10"/><rect x="47" y="11.5" width="2" height="5" fill="#b89070"/><rect x="50.8" y="7.2" width="3.6" height="13" fill="#d6d4d6"/><rect x="53.6" y="7.2" width="0.9" height="13" fill="#7a7a7a"/><rect x="50.8" y="7.2" width="3.6" height="1" fill="#7a7a7a"/><rect x="50.8" y="19.2" width="3.6" height="1" fill="#7a7a7a"/><path d="M10.2 11.2 L45 11.2" stroke="#d9a86c" stroke-width="2.7" stroke-linecap="round" fill="none"/><path d="M10.2 18.1 L45 18.1" stroke="#d9a86c" stroke-width="2.7" stroke-linecap="round" fill="none"/><path d="M11 10.6 L44.5 10.6" stroke="#f3d3a3" stroke-width="0.8" fill="none"/><path d="M11 17.5 L44.5 17.5" stroke="#f3d3a3" stroke-width="0.8" fill="none"/><path d="M12 12.3 L44.5 12.3" stroke="#b98a58" stroke-width="0.5" fill="none"/><path d="M12 19.2 L44.5 19.2" stroke="#b98a58" stroke-width="0.5" fill="none"/></g>
<g transform="translate(0,182.4)"><rect x="6.8" y="6.6" width="9.5" height="13" fill="#a9a9a9"/><rect x="6.8" y="6.6" width="3" height="13" fill="#d2d2d2"/><rect x="6.8" y="6.6" width="9.5" height="2.6" fill="#585858"/><rect x="13" y="11.8" width="3.3" height="4.6" fill="#121212"/><rect x="44" y="7.2" width="6.8" height="13" fill="#2e1c10"/><rect x="47" y="11.5" width="2" height="5" fill="#b89070"/><rect x="50.8" y="7.2" width="3.6" height="13" fill="#d6d4d6"/><rect x="53.6" y="7.2" width="0.9" height="13" fill="#7a7a7a"/><rect x="50.8" y="7.2" width="3.6" height="1" fill="#7a7a7a"/><rect x="50.8" y="19.2" width="3.6" height="1" fill="#7a7a7a"/><path d="M10.2 11.2 L45 11.2" stroke="#d9a86c" stroke-width="2.7" stroke-linecap="round" fill="none"/><path d="M10.2 18.1 L45 18.1" stroke="#d9a86c" stroke-width="2.7" stroke-linecap="round" fill="none"/><path d="M11 10.6 L44.5 10.6" stroke="#f3d3a3" stroke-width="0.8" fill="none"/><path d="M11 17.5 L44.5 17.5" stroke="#f3d3a3" stroke-width="0.8" fill="none"/><path d="M12 12.3 L44.5 12.3" stroke="#b98a58" stroke-width="0.5" fill="none"/><path d="M12 19.2 L44.5 19.2" stroke="#b98a58" stroke-width="0.5" fill="none"/></g>
<g transform="translate(0,208.4)"><rect x="6.8" y="6.6" width="9.5" height="13" fill="#a9a9a9"/><rect x="6.8" y="6.6" width="3" height="13" fill="#d2d2d2"/><rect x="6.8" y="6.6" width="9.5" height="2.6" fill="#585858"/><rect x="13" y="11.8" width="3.3" height="4.6" fill="#121212"/><rect x="44" y="7.2" width="6.8" height="13" fill="#2e1c10"/><rect x="47" y="11.5" width="2" height="5" fill="#b89070"/><rect x="50.8" y="7.2" width="3.6" height="13" fill="#d6d4d6"/><rect x="53.6" y="7.2" width="0.9" height="13" fill="#7a7a7a"/><rect x="50.8" y="7.2" width="3.6" height="1" fill="#7a7a7a"/><rect x="50.8" y="19.2" width="3.6" height="1" fill="#7a7a7a"/><path d="M10.2 11.2 L45 11.2" stroke="#d9a86c" stroke-width="2.7" stroke-linecap="round" fill="none"/><path d="M10.2 18.1 L45 18.1" stroke="#d9a86c" stroke-width="2.7" stroke-linecap="round" fill="none"/><path d="M11 10.6 L44.5 10.6" stroke="#f3d3a3" stroke-width="0.8" fill="none"/><path d="M11 17.5 L44.5 17.5" stroke="#f3d3a3" stroke-width="0.8" fill="none"/><path d="M12 12.3 L44.5 12.3" stroke="#b98a58" stroke-width="0.5" fill="none"/><path d="M12 19.2 L44.5 19.2" stroke="#b98a58" stroke-width="0.5" fill="none"/></g>
<g transform="translate(0,234.4)"><rect x="6.8" y="6.6" width="9.5" height="13" fill="#a9a9a9"/><rect x="6.8" y="6.6" width="3" height="13" fill="#d2d2d2"/><rect x="6.8" y="6.6" width="9.5" height="2.6" fill="#585858"/><rect x="13" y="11.8" width="3.3" height="4.6" fill="#121212"/><rect x="44" y="7.2" width="6.8" height="13" fill="#2e1c10"/><rect x="47" y="11.5" width="2" height="5" fill="#b89070"/><rect x="50.8" y="7.2" width="3.6" height="13" fill="#d6d4d6"/><rect x="53.6" y="7.2" width="0.9" height="13" fill="#7a7a7a"/><rect x="50.8" y="7.2" width="3.6" height="1" fill="#7a7a7a"/><rect x="50.8" y="19.2" width="3.6" height="1" fill="#7a7a7a"/><path d="M10.2 11.2 L45 11.2" stroke="#d9a86c" stroke-width="2.7" stroke-linecap="round" fill="none"/><path d="M10.2 18.1 L45 18.1" stroke="#d9a86c" stroke-width="2.7" stroke-linecap="round" fill="none"/><path d="M11 10.6 L44.5 10.6" stroke="#f3d3a3" stroke-width="0.8" fill="none"/><path d="M11 17.5 L44.5 17.5" stroke="#f3d3a3" stroke-width="0.8" fill="none"/><path d="M12 12.3 L44.5 12.3" stroke="#b98a58" stroke-width="0.5" fill="none"/><path d="M12 19.2 L44.5 19.2" stroke="#b98a58" stroke-width="0.5" fill="none"/></g>
<g transform="translate(0,260.4)"><rect x="6.8" y="6.6" width="9.5" height="13" fill="#a9a9a9"/><rect x="6.8" y="6.6" width="3" height="13" fill="#d2d2d2"/><rect x="6.8" y="6.6" width="9.5" height="2.6" fill="#585858"/><rect x="13" y="11.8" width="3.3" height="4.6" fill="#121212"/><rect x="44" y="7.2" width="6.8" height="13" fill="#2e1c10"/><rect x="47" y="11.5" width="2" height="5" fill="#b89070"/><rect x="50.8" y="7.2" width="3.6" height="13" fill="#d6d4d6"/><rect x="53.6" y="7.2" width="0.9" height="13" fill="#7a7a7a"/><rect x="50.8" y="7.2" width="3.6" height="1" fill="#7a7a7a"/><rect x="50.8" y="19.2" width="3.6" height="1" fill="#7a7a7a"/><path d="M10.2 11.2 L45 11.2" stroke="#d9a86c" stroke-width="2.7" stroke-linecap="round" fill="none"/><path d="M10.2 18.1 L45 18.1" stroke="#d9a86c" stroke-width="2.7" stroke-linecap="round" fill="none"/><path d="M11 10.6 L44.5 10.6" stroke="#f3d3a3" stroke-width="0.8" fill="none"/><path d="M11 17.5 L44.5 17.5" stroke="#f3d3a3" stroke-width="0.8" fill="none"/><path d="M12 12.3 L44.5 12.3" stroke="#b98a58" stroke-width="0.5" fill="none"/><path d="M12 19.2 L44.5 19.2" stroke="#b98a58" stroke-width="0.5" fill="none"/></g>
<g transform="translate(0,286.4)"><rect x="6.8" y="6.6" width="9.5" height="13" fill="#a9a9a9"/><rect x="6.8" y="6.6" width="3" height="13" fill="#d2d2d2"/><rect x="6.8" y="6.6" width="9.5" height="2.6" fill="#585858"/><rect x="13" y="11.8" width="3.3" height="4.6" fill="#121212"/><rect x="44" y="7.2" width="6.8" height="13" fill="#2e1c10"/><rect x="47" y="11.5" width="2" height="5" fill="#b89070"/><rect x="50.8" y="7.2" width="3.6" height="13" fill="#d6d4d6"/><rect x="53.6" y="7.2" width="0.9" height="13" fill="#7a7a7a"/><rect x="50.8" y="7.2" width="3.6" height="1" fill="#7a7a7a"/><rect x="50.8" y="19.2" width="3.6" height="1" fill="#7a7a7a"/><path d="M10.2 11.2 L45 11.2" stroke="#d9a86c" stroke-width="2.7" stroke-linecap="round" fill="none"/><path d="M10.2 18.1 L45 18.1" stroke="#d9a86c" stroke-width="2.7" stroke-linecap="round" fill="none"/><path d="M11 10.6 L44.5 10.6" stroke="#f3d3a3" stroke-width="0.8" fill="none"/><path d="M11 17.5 L44.5 17.5" stroke="#f3d3a3" stroke-width="0.8" fill="none"/><path d="M12 12.3 L44.5 12.3" stroke="#b98a58" stroke-width="0.5" fill="none"/><path d="M12 19.2 L44.5 19.2" stroke="#b98a58" stroke-width="0.5" fill="none"/></g>
<g transform="translate(0,312.4)"><rect x="6.8" y="6.6" width="9.5" height="13" fill="#a9a9a9"/><rect x="6.8" y="6.6" width="3" height="13" fill="#d2d2d2"/><rect x="6.8" y="6.6" width="9.5" height="2.6" fill="#585858"/><rect x="13" y="11.8" width="3.3" height="4.6" fill="#121212"/><rect x="44" y="7.2" width="6.8" height="13" fill="#2e1c10"/><rect x="47" y="11.5" width="2" height="5" fill="#b89070"/><rect x="50.8" y="7.2" width="3.6" height="13" fill="#d6d4d6"/><rect x="53.6" y="7.2" width="0.9" height="13" fill="#7a7a7a"/><rect x="50.8" y="7.2" width="3.6" height="1" fill="#7a7a7a"/><rect x="50.8" y="19.2" width="3.6" height="1" fill="#7a7a7a"/><path d="M10.2 11.2 L45 11.2" stroke="#d9a86c" stroke-width="2.7" stroke-linecap="round" fill="none"/><path d="M10.2 18.1 L45 18.1" stroke="#d9a86c" stroke-width="2.7" stroke-linecap="round" fill="none"/><path d="M11 10.6 L44.5 10.6" stroke="#f3d3a3" stroke-width="0.8" fill="none"/><path d="M11 17.5 L44.5 17.5" stroke="#f3d3a3" stroke-width="0.8" fill="none"/><path d="M12 12.3 L44.5 12.3" stroke="#b98a58" stroke-width="0.5" fill="none"/><path d="M12 19.2 L44.5 19.2" stroke="#b98a58" stroke-width="0.5" fill="none"/></g>
<g transform="translate(0,338.4)"><rect x="6.8" y="6.6" width="9.5" height="13" fill="#a9a9a9"/><rect x="6.8" y="6.6" width="3" height="13" fill="#d2d2d2"/><rect x="6.8" y="6.6" width="9.5" height="2.6" fill="#585858"/><rect x="13" y="11.8" width="3.3" height="4.6" fill="#121212"/><rect x="44" y="7.2" width="6.8" height="13" fill="#2e1c10"/><rect x="47" y="11.5" width="2" height="5" fill="#b89070"/><rect x="50.8" y="7.2" width="3.6" height="13" fill="#d6d4d6"/><rect x="53.6" y="7.2" width="0.9" height="13" fill="#7a7a7a"/><rect x="50.8" y="7.2" width="3.6" height="1" fill="#7a7a7a"/><rect x="50.8" y="19.2" width="3.6" height="1" fill="#7a7a7a"/><path d="M10.2 11.2 L45 11.2" stroke="#d9a86c" stroke-width="2.7" stroke-linecap="round" fill="none"/><path d="M10.2 18.1 L45 18.1" stroke="#d9a86c" stroke-width="2.7" stroke-linecap="round" fill="none"/><path d="M11 10.6 L44.5 10.6" stroke="#f3d3a3" stroke-width="0.8" fill="none"/><path d="M11 17.5 L44.5 17.5" stroke="#f3d3a3" stroke-width="0.8" fill="none"/><path d="M12 12.3 L44.5 12.3" stroke="#b98a58" stroke-width="0.5" fill="none"/><path d="M12 19.2 L44.5 19.2" stroke="#b98a58" stroke-width="0.5" fill="none"/></g>
<g transform="translate(0,364.4)"><rect x="6.8" y="6.6" width="9.5" height="13" fill="#a9a9a9"/><rect x="6.8" y="6.6" width="3" height="13" fill="#d2d2d2"/><rect x="6.8" y="6.6" width="9.5" height="2.6" fill="#585858"/><rect x="13" y="11.8" width="3.3" height="4.6" fill="#121212"/><rect x="44" y="7.2" width="6.8" height="13" fill="#2e1c10"/><rect x="47" y="11.5" width="2" height="5" fill="#b89070"/><rect x="50.8" y="7.2" width="3.6" height="13" fill="#d6d4d6"/><rect x="53.6" y="7.2" width="0.9" height="13" fill="#7a7a7a"/><rect x="50.8" y="7.2" width="3.6" height="1" fill="#7a7a7a"/><rect x="50.8" y="19.2" width="3.6" height="1" fill="#7a7a7a"/><path d="M10.2 11.2 L45 11.2" stroke="#d9a86c" stroke-width="2.7" stroke-linecap="round" fill="none"/><path d="M10.2 18.1 L45 18.1" stroke="#d9a86c" stroke-width="2.7" stroke-linecap="round" fill="none"/><path d="M11 10.6 L44.5 10.6" stroke="#f3d3a3" stroke-width="0.8" fill="none"/><path d="M11 17.5 L44.5 17.5" stroke="#f3d3a3" stroke-width="0.8" fill="none"/><path d="M12 12.3 L44.5 12.3" stroke="#b98a58" stroke-width="0.5" fill="none"/><path d="M12 19.2 L44.5 19.2" stroke="#b98a58" stroke-width="0.5" fill="none"/></g>
<g transform="translate(0,390.4)"><rect x="6.8" y="6.6" width="9.5" height="13" fill="#a9a9a9"/><rect x="6.8" y="6.6" width="3" height="13" fill="#d2d2d2"/><rect x="6.8" y="6.6" width="9.5" height="2.6" fill="#585858"/><rect x="13" y="11.8" width="3.3" height="4.6" fill="#121212"/><rect x="44" y="7.2" width="6.8" height="13" fill="#2e1c10"/><rect x="47" y="11.5" width="2" height="5" fill="#b89070"/><rect x="50.8" y="7.2" width="3.6" height="13" fill="#d6d4d6"/><rect x="53.6" y="7.2" width="0.9" height="13" fill="#7a7a7a"/><rect x="50.8" y="7.2" width="3.6" height="1" fill="#7a7a7a"/><rect x="50.8" y="19.2" width="3.6" height="1" fill="#7a7a7a"/><path d="M10.2 11.2 L45 11.2" stroke="#d9a86c" stroke-width="2.7" stroke-linecap="round" fill="none"/><path d="M10.2 18.1 L45 18.1" stroke="#d9a86c" stroke-width="2.7" stroke-linecap="round" fill="none"/><path d="M11 10.6 L44.5 10.6" stroke="#f3d3a3" stroke-width="0.8" fill="none"/><path d="M11 17.5 L44.5 17.5" stroke="#f3d3a3" stroke-width="0.8" fill="none"/><path d="M12 12.3 L44.5 12.3" stroke="#b98a58" stroke-width="0.5" fill="none"/><path d="M12 19.2 L44.5 19.2" stroke="#b98a58" stroke-width="0.5" fill="none"/></g>
<g transform="translate(0,416.4)"><rect x="6.8" y="6.6" width="9.5" height="13" fill="#a9a9a9"/><rect x="6.8" y="6.6" width="3" height="13" fill="#d2d2d2"/><rect x="6.8" y="6.6" width="9.5" height="2.6" fill="#585858"/><rect x="13" y="11.8" width="3.3" height="4.6" fill="#121212"/><rect x="44" y="7.2" width="6.8" height="13" fill="#2e1c10"/><rect x="47" y="11.5" width="2" height="5" fill="#b89070"/><rect x="50.8" y="7.2" width="3.6" height="13" fill="#d6d4d6"/><rect x="53.6" y="7.2" width="0.9" height="13" fill="#7a7a7a"/><rect x="50.8" y="7.2" width="3.6" height="1" fill="#7a7a7a"/><rect x="50.8" y="19.2" width="3.6" height="1" fill="#7a7a7a"/><path d="M10.2 11.2 L45 11.2" stroke="#d9a86c" stroke-width="2.7" stroke-linecap="round" fill="none"/><path d="M10.2 18.1 L45 18.1" stroke="#d9a86c" stroke-width="2.7" stroke-linecap="round" fill="none"/><path d="M11 10.6 L44.5 10.6" stroke="#f3d3a3" stroke-width="0.8" fill="none"/><path d="M11 17.5 L44.5 17.5" stroke="#f3d3a3" stroke-width="0.8" fill="none"/><path d="M12 12.3 L44.5 12.3" stroke="#b98a58" stroke-width="0.5" fill="none"/><path d="M12 19.2 L44.5 19.2" stroke="#b98a58" stroke-width="0.5" fill="none"/></g>
<g transform="translate(0,442.4)"><rect x="6.8" y="6.6" width="9.5" height="13" fill="#a9a9a9"/><rect x="6.8" y="6.6" width="3" height="13" fill="#d2d2d2"/><rect x="6.8" y="6.6" width="9.5" height="2.6" fill="#585858"/><rect x="13" y="11.8" width="3.3" height="4.6" fill="#121212"/><rect x="44" y="7.2" width="6.8" height="13" fill="#2e1c10"/><rect x="47" y="11.5" width="2" height="5" fill="#b89070"/><rect x="50.8" y="7.2" width="3.6" height="13" fill="#d6d4d6"/><rect x="53.6" y="7.2" width="0.9" height="13" fill="#7a7a7a"/><rect x="50.8" y="7.2" width="3.6" height="1" fill="#7a7a7a"/><rect x="50.8" y="19.2" width="3.6" height="1" fill="#7a7a7a"/><path d="M10.2 11.2 L45 11.2" stroke="#d9a86c" stroke-width="2.7" stroke-linecap="round" fill="none"/><path d="M10.2 18.1 L45 18.1" stroke="#d9a86c" stroke-width="2.7" stroke-linecap="round" fill="none"/><path d="M11 10.6 L44.5 10.6" stroke="#f3d3a3" stroke-width="0.8" fill="none"/><path d="M11 17.5 L44.5 17.5" stroke="#f3d3a3" stroke-width="0.8" fill="none"/><path d="M12 12.3 L44.5 12.3" stroke="#b98a58" stroke-width="0.5" fill="none"/><path d="M12 19.2 L44.5 19.2" stroke="#b98a58" stroke-width="0.5" fill="none"/></g>
<g transform="translate(0,468.4)"><rect x="6.8" y="6.6" width="9.5" height="13" fill="#a9a9a9"/><rect x="6.8" y="6.6" width="3" height="13" fill="#d2d2d2"/><rect x="6.8" y="6.6" width="9.5" height="2.6" fill="#585858"/><rect x="13" y="11.8" width="3.3" height="4.6" fill="#121212"/><rect x="44" y="7.2" width="6.8" height="13" fill="#2e1c10"/><rect x="47" y="11.5" width="2" height="5" fill="#b89070"/><rect x="50.8" y="7.2" width="3.6" height="13" fill="#d6d4d6"/><rect x="53.6" y="7.2" width="0.9" height="13" fill="#7a7a7a"/><rect x="50.8" y="7.2" width="3.6" height="1" fill="#7a7a7a"/><rect x="50.8" y="19.2" width="3.6" height="1" fill="#7a7a7a"/><path d="M10.2 11.2 L45 11.2" stroke="#d9a86c" stroke-width="2.7" stroke-linecap="round" fill="none"/><path d="M10.2 18.1 L45 18.1" stroke="#d9a86c" stroke-width="2.7" stroke-linecap="round" fill="none"/><path d="M11 10.6 L44.5 10.6" stroke="#f3d3a3" stroke-width="0.8" fill="none"/><path d="M11 17.5 L44.5 17.5" stroke="#f3d3a3" stroke-width="0.8" fill="none"/><path d="M12 12.3 L44.5 12.3" stroke="#b98a58" stroke-width="0.5" fill="none"/><path d="M12 19.2 L44.5 19.2" stroke="#b98a58" stroke-width="0.5" fill="none"/></g>
<g transform="translate(0,494.4)"><rect x="6.8" y="6.6" width="9.5" height="13" fill="#a9a9a9"/><rect x="6.8" y="6.6" width="3" height="13" fill="#d2d2d2"/><rect x="6.8" y="6.6" width="9.5" height="2.6" fill="#585858"/><rect x="13" y="11.8" width="3.3" height="4.6" fill="#121212"/><rect x="44" y="7.2" width="6.8" height="13" fill="#2e1c10"/><rect x="47" y="11.5" width="2" height="5" fill="#b89070"/><rect x="50.8" y="7.2" width="3.6" height="13" fill="#d6d4d6"/><rect x="53.6" y="7.2" width="0.9" height="13" fill="#7a7a7a"/><rect x="50.8" y="7.2" width="3.6" height="1" fill="#7a7a7a"/><rect x="50.8" y="19.2" width="3.6" height="1" fill="#7a7a7a"/><path d="M10.2 11.2 L45 11.2" stroke="#d9a86c" stroke-width="2.7" stroke-linecap="round" fill="none"/><path d="M10.2 18.1 L45 18.1" stroke="#d9a86c" stroke-width="2.7" stroke-linecap="round" fill="none"/><path d="M11 10.6 L44.5 10.6" stroke="#f3d3a3" stroke-width="0.8" fill="none"/><path d="M11 17.5 L44.5 17.5" stroke="#f3d3a3" stroke-width="0.8" fill="none"/><path d="M12 12.3 L44.5 12.3" stroke="#b98a58" stroke-width="0.5" fill="none"/><path d="M12 19.2 L44.5 19.2" stroke="#b98a58" stroke-width="0.5" fill="none"/></g>
<g transform="translate(0,520.4)"><rect x="6.8" y="6.6" width="9.5" height="13" fill="#a9a9a9"/><rect x="6.8" y="6.6" width="3" height="13" fill="#d2d2d2"/><rect x="6.8" y="6.6" width="9.5" height="2.6" fill="#585858"/><rect x="13" y="11.8" width="3.3" height="4.6" fill="#121212"/><rect x="44" y="7.2" width="6.8" height="13" fill="#2e1c10"/><rect x="47" y="11.5" width="2" height="5" fill="#b89070"/><rect x="50.8" y="7.2" width="3.6" height="13" fill="#d6d4d6"/><rect x="53.6" y="7.2" width="0.9" height="13" fill="#7a7a7a"/><rect x="50.8" y="7.2" width="3.6" height="1" fill="#7a7a7a"/><rect x="50.8" y="19.2" width="3.6" height="1" fill="#7a7a7a"/><path d="M10.2 11.2 L45 11.2" stroke="#d9a86c" stroke-width="2.7" stroke-linecap="round" fill="none"/><path d="M10.2 18.1 L45 18.1" stroke="#d9a86c" stroke-width="2.7" stroke-linecap="round" fill="none"/><path d="M11 10.6 L44.5 10.6" stroke="#f3d3a3" stroke-width="0.8" fill="none"/><path d="M11 17.5 L44.5 17.5" stroke="#f3d3a3" stroke-width="0.8" fill="none"/><path d="M12 12.3 L44.5 12.3" stroke="#b98a58" stroke-width="0.5" fill="none"/><path d="M12 19.2 L44.5 19.2" stroke="#b98a58" stroke-width="0.5" fill="none"/></g>
<g transform="translate(0,546.4)"><rect x="6.8" y="6.6" width="9.5" height="13" fill="#a9a9a9"/><rect x="6.8" y="6.6" width="3" height="13" fill="#d2d2d2"/><rect x="6.8" y="6.6" width="9.5" height="2.6" fill="#585858"/><rect x="13" y="11.8" width="3.3" height="4.6" fill="#121212"/><rect x="44" y="7.2" width="6.8" height="13" fill="#2e1c10"/><rect x="47" y="11.5" width="2" height="5" fill="#b89070"/><rect x="50.8" y="7.2" width="3.6" height="13" fill="#d6d4d6"/><rect x="53.6" y="7.2" width="0.9" height="13" fill="#7a7a7a"/><rect x="50.8" y="7.2" width="3.6" height="1" fill="#7a7a7a"/><rect x="50.8" y="19.2" width="3.6" height="1" fill="#7a7a7a"/><path d="M10.2 11.2 L45 11.2" stroke="#d9a86c" stroke-width="2.7" stroke-linecap="round" fill="none"/><path d="M10.2 18.1 L45 18.1" stroke="#d9a86c" stroke-width="2.7" stroke-linecap="round" fill="none"/><path d="M11 10.6 L44.5 10.6" stroke="#f3d3a3" stroke-width="0.8" fill="none"/><path d="M11 17.5 L44.5 17.5" stroke="#f3d3a3" stroke-width="0.8" fill="none"/><path d="M12 12.3 L44.5 12.3" stroke="#b98a58" stroke-width="0.5" fill="none"/><path d="M12 19.2 L44.5 19.2" stroke="#b98a58" stroke-width="0.5" fill="none"/></g>
<g transform="translate(0,572.4)"><rect x="6.8" y="6.6" width="9.5" height="13" fill="#a9a9a9"/><rect x="6.8" y="6.6" width="3" height="13" fill="#d2d2d2"/><rect x="6.8" y="6.6" width="9.5" height="2.6" fill="#585858"/><rect x="13" y="11.8" width="3.3" height="4.6" fill="#121212"/><rect x="44" y="7.2" width="6.8" height="13" fill="#2e1c10"/><rect x="47" y="11.5" width="2" height="5" fill="#b89070"/><rect x="50.8" y="7.2" width="3.6" height="13" fill="#d6d4d6"/><rect x="53.6" y="7.2" width="0.9" height="13" fill="#7a7a7a"/><rect x="50.8" y="7.2" width="3.6" height="1" fill="#7a7a7a"/><rect x="50.8" y="19.2" width="3.6" height="1" fill="#7a7a7a"/><path d="M10.2 11.2 L45 11.2" stroke="#d9a86c" stroke-width="2.7" stroke-linecap="round" fill="none"/><path d="M10.2 18.1 L45 18.1" stroke="#d9a86c" stroke-width="2.7" stroke-linecap="round" fill="none"/><path d="M11 10.6 L44.5 10.6" stroke="#f3d3a3" stroke-width="0.8" fill="none"/><path d="M11 17.5 L44.5 17.5" stroke="#f3d3a3" stroke-width="0.8" fill="none"/><path d="M12 12.3 L44.5 12.3" stroke="#b98a58" stroke-width="0.5" fill="none"/><path d="M12 19.2 L44.5 19.2" stroke="#b98a58" stroke-width="0.5" fill="none"/></g>
<g transform="translate(0,598.4)"><rect x="6.8" y="6.6" width="9.5" height="13" fill="#a9a9a9"/><rect x="6.8" y="6.6" width="3" height="13" fill="#d2d2d2"/><rect x="6.8" y="6.6" width="9.5" height="2.6" fill="#585858"/><rect x="13" y="11.8" width="3.3" height="4.6" fill="#121212"/><rect x="44" y="7.2" width="6.8" height="13" fill="#2e1c10"/><rect x="47" y="11.5" width="2" height="5" fill="#b89070"/><rect x="50.8" y="7.2" width="3.6" height="13" fill="#d6d4d6"/><rect x="53.6" y="7.2" width="0.9" height="13" fill="#7a7a7a"/><rect x="50.8" y="7.2" width="3.6" height="1" fill="#7a7a7a"/><rect x="50.8" y="19.2" width="3.6" height="1" fill="#7a7a7a"/><path d="M10.2 11.2 L45 11.2" stroke="#d9a86c" stroke-width="2.7" stroke-linecap="round" fill="none"/><path d="M10.2 18.1 L45 18.1" stroke="#d9a86c" stroke-width="2.7" stroke-linecap="round" fill="none"/><path d="M11 10.6 L44.5 10.6" stroke="#f3d3a3" stroke-width="0.8" fill="none"/><path d="M11 17.5 L44.5 17.5" stroke="#f3d3a3" stroke-width="0.8" fill="none"/><path d="M12 12.3 L44.5 12.3" stroke="#b98a58" stroke-width="0.5" fill="none"/><path d="M12 19.2 L44.5 19.2" stroke="#b98a58" stroke-width="0.5" fill="none"/></g>
</svg>
</body></html>
